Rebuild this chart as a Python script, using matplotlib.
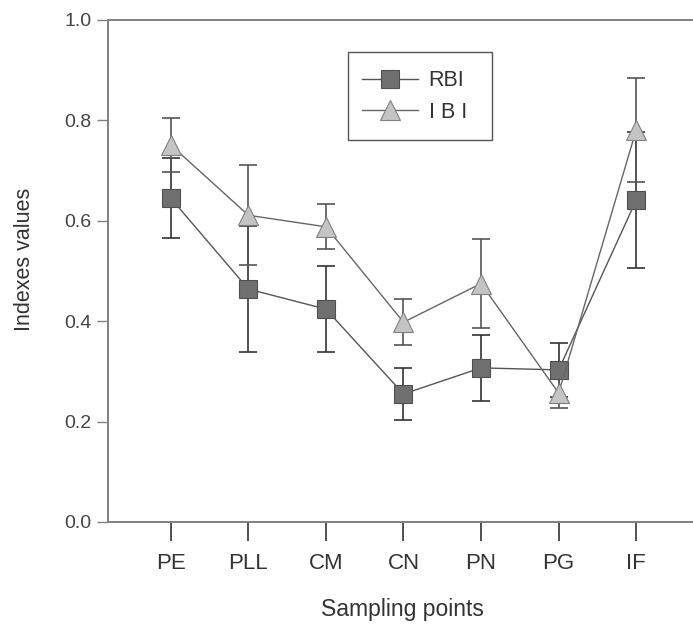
import matplotlib
matplotlib.use("Agg")
import matplotlib.pyplot as plt
from matplotlib.patches import Rectangle
import numpy as np

plt.rcParams['font.family'] = ['Liberation Sans', 'DejaVu Sans']

categories = ["PE", "PLL", "CM", "CN", "PN", "PG", "IF"]
rbi = [0.645, 0.464, 0.424, 0.255, 0.307, 0.303, 0.641]
rbi_err = [0.080, 0.125, 0.086, 0.052, 0.065, 0.054, 0.135]
ibi = [0.751, 0.611, 0.588, 0.398, 0.475, 0.257, 0.781]
ibi_err = [0.054, 0.100, 0.045, 0.046, 0.089, 0.030, 0.103]
yticks = [0.0, 0.2, 0.4, 0.6, 0.8, 1.0]

W, H = 693, 628
AX_L, AX_R, AX_T, AX_B = 108, 692, 20, 522

fig = plt.figure(figsize=(W/100, H/100), dpi=100)
ax = fig.add_axes([AX_L/W, (H-AX_B)/H, (AX_R-AX_L)/W, (AX_B-AX_T)/H])

def ax_x(px):
    return (px - AX_L) / (AX_R - AX_L)

def ax_y(py):
    return (AX_B - py) / (AX_B - AX_T)

x = np.arange(1, len(categories) + 1)

ax.errorbar(x, rbi, yerr=rbi_err, fmt='none', ecolor='#333333', elinewidth=1.2,
            capsize=6.5, capthick=1.2, zorder=2)
ax.errorbar(x, ibi, yerr=ibi_err, fmt='none', ecolor='#555555', elinewidth=1.2,
            capsize=6.5, capthick=1.2, zorder=2)
ax.plot(x, rbi, color='#555555', lw=1.0, marker='s', markersize=13,
        markerfacecolor='#707070', markeredgecolor='#505050', markeredgewidth=0.8,
        label='RBI', zorder=3)
ax.plot(x, ibi, color='#666666', lw=1.0, marker='^', markersize=14,
        markerfacecolor='#c4c4c4', markeredgecolor='#808080', markeredgewidth=0.8,
        label='I B I', zorder=4)

ax.set_xlim(0.19, 7.72)
ax.set_ylim(0.0, 1.0)
ax.set_xticks(x)
ax.set_xticklabels(categories)
ax.set_yticks(yticks)
ax.set_yticklabels([f"{v:.1f}" for v in yticks])

for s in ['left', 'top', 'bottom']:
    ax.spines[s].set_color('#808080')
    ax.spines[s].set_linewidth(1.4)
ax.spines['right'].set_visible(False)

ax.tick_params(axis='x', direction='out', length=13.5, width=1.2, color='#333333',
               labelsize=16, labelcolor='#333333', pad=9)
ax.tick_params(axis='y', direction='out', length=8, width=1.0, color='#808080',
               labelsize=14, labelcolor='#444444', pad=4)

ax.set_xlabel("Sampling points", fontsize=16.5, color='#333333')
ax.xaxis.set_label_coords(ax_x(402), ax_y(598))
ax.set_ylabel("Indexes values", fontsize=15.5, color='#333333')
ax.yaxis.set_label_coords(ax_x(35), ax_y(259))

# legend frame
ax.add_patch(Rectangle((ax_x(348), ax_y(140)), ax_x(492) - ax_x(348),
                       ax_y(52) - ax_y(140), transform=ax.transAxes,
                       fill=False, edgecolor='#555555', linewidth=1.0,
                       zorder=5, clip_on=False))
leg = ax.legend(loc='center left', bbox_to_anchor=(ax_x(362), ax_y(96.5)),
                frameon=False, fontsize=15.5, handlelength=2.6,
                borderpad=0, labelspacing=0.5, handletextpad=0.5,
                borderaxespad=0)
for t in leg.get_texts():
    t.set_color('#333333')

fig.savefig("out.png", dpi=100)
